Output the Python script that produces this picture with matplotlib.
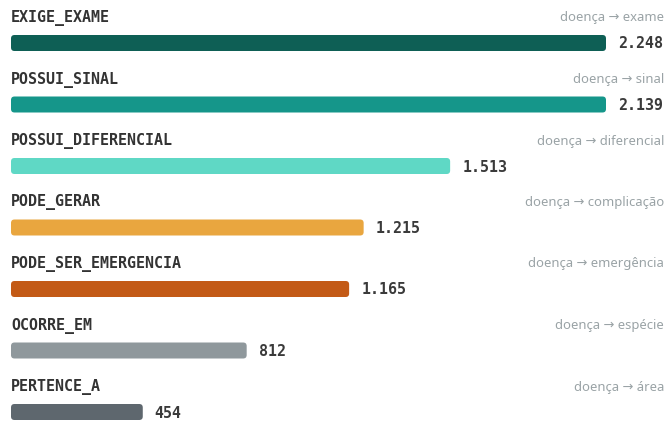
import numpy as np
import matplotlib.pyplot as plt
from matplotlib.patches import FancyBboxPatch

# relation types and their counts
relations = ['EXIGE_EXAME', 'POSSUI_SINAL', 'POSSUI_DIFERENCIAL', 'PODE_GERAR',
             'PODE_SER_EMERGENCIA', 'OCORRE_EM', 'PERTENCE_A']
counts = [2248, 2139, 1513, 1215, 1165, 812, 454]
count_labels = ['2.248', '2.139', '1.513', '1.215', '1.165', '812', '454']
descriptions = ['doença → exame', 'doença → sinal', 'doença → diferencial',
                'doença → complicação', 'doença → emergência', 'doença → espécie',
                'doença → área']
colors = ['#0e5f55', '#15968a', '#5fd8c5', '#e9a63f', '#c35a16', '#8f989c', '#5e676e']

# bars can't grow past the container, like in the original page
cap = 2050

fig = plt.figure(figsize=(6.7, 4.21), dpi=100)
fig.patch.set_facecolor('white')
ax = fig.add_axes([11/670, 0, 595/670, 1])
ax.set_xlim(0, cap)
ax.set_ylim(421, 0)
ax.axis('off')

px_x = cap / 595.0  # data units per pixel along x
row0 = 43
step = 61.5
bar_h = 16

for i, (name, v, lab, desc, c) in enumerate(zip(relations, counts, count_labels, descriptions, colors)):
    yc = row0 + i * step
    w = min(v, cap)
    box = FancyBboxPatch((0, yc - bar_h/2), w, bar_h,
                         boxstyle='round,pad=0,rounding_size=%f' % (3.5 * px_x),
                         mutation_aspect=1/px_x, fc=c, ec='none')
    ax.add_patch(box)
    ax.text(0, yc - 25, name, fontsize=10.8, fontweight='bold', family='DejaVu Sans Mono',
            color='#333333', va='center', ha='left')
    ax.text(w + 12 * px_x, yc + 1, lab, fontsize=10.8, fontweight='bold', family='DejaVu Sans Mono',
            color='#3a3a3a', va='center', ha='left', clip_on=False)
    ax.text(653 * px_x, yc - 25, desc, fontsize=9.4, family=['Noto Sans', 'DejaVu Sans'],
            color='#9aa3a6', va='center', ha='right', clip_on=False)

plt.savefig('out.png', dpi=100, facecolor='white')
